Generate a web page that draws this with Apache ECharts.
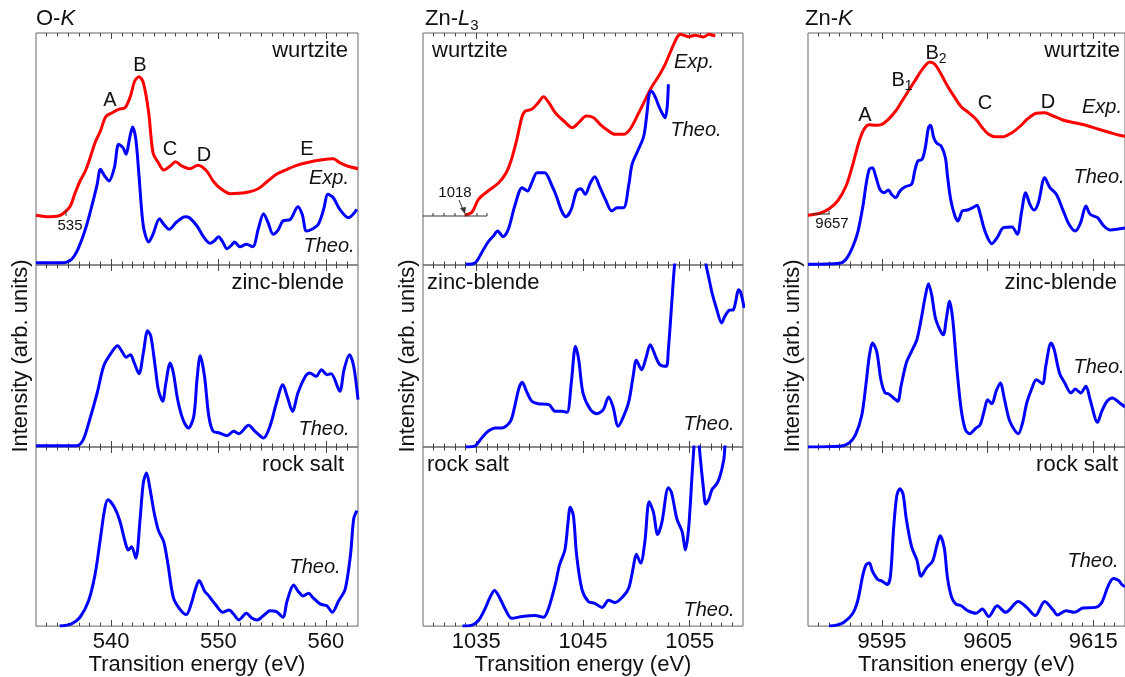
<!DOCTYPE html>
<html>
<head>
<meta charset="utf-8">
<script src="https://cdn.jsdelivr.net/npm/echarts@6/dist/echarts.min.js"></script>
<style>
  html, body { margin: 0; padding: 0; background: #ffffff; }
  #chart { width: 1125px; height: 677px; }
</style>
</head>
<body>
<div id="chart"></div>
<script>
// ---- Energy axes (eV) for the three edges ----
const xRangeOK = [533, 563];
const xRangeZnL3 = [1030, 1060];
const xRangeZnK = [9588, 9618];
const majorTicksOK = [540, 550, 560];
const majorTicksZnL3 = [1035, 1045, 1055];
const majorTicksZnK = [9595, 9605, 9615];
// Intensity scale (arb. units) per row of panels
const yMaxRows = [232, 182, 182];

// ---- O-K edge ----
const okWurtziteExp = [[533.0,49.7],[534.0,48.3],[535.1,49.0],[535.7,53.0],[536.2,59.0],[536.6,70.7],[537.1,84.0],[537.6,94.0],[538.0,105.7],[538.5,122.3],[539.0,134.0],[539.5,148.3],[540.1,152.3],[540.7,155.7],[541.3,157.3],[541.8,169.0],[542.2,184.0],[542.6,188.3],[543.0,182.3],[543.5,152.3],[543.9,112.3],[544.4,102.3],[544.9,95.0],[545.5,99.0],[546.0,103.3],[546.6,99.0],[547.3,96.3],[548.1,99.7],[548.9,94.0],[549.5,84.0],[550.1,77.3],[551.1,71.3],[551.9,71.7],[552.8,73.0],[553.7,76.3],[554.5,83.0],[555.4,90.7],[556.4,95.7],[557.3,99.7],[558.2,102.3],[559.5,105.0],[560.7,106.3],[561.3,102.3],[562.0,99.0],[563.0,96.3]];
const okWurtziteTheo = [[533.0,2.3],[535.5,2.3],[536.3,5.7],[536.9,15.7],[537.6,35.7],[538.2,59.0],[538.7,80.7],[539.0,95.7],[539.4,89.0],[539.8,84.0],[540.3,97.3],[540.7,120.7],[541.1,117.3],[541.4,110.7],[541.7,125.7],[542.0,138.0],[542.3,125.7],[542.6,89.0],[543.0,39.0],[543.5,23.0],[543.9,30.7],[544.5,46.3],[544.9,40.7],[545.4,35.7],[546.1,43.0],[546.9,48.3],[547.3,47.3],[548.0,39.0],[548.6,28.3],[549.2,21.7],[549.6,24.0],[550.0,28.3],[550.4,23.0],[550.8,16.3],[551.2,19.7],[551.5,23.0],[552.0,18.3],[552.6,20.7],[553.2,18.3],[553.7,35.7],[554.2,51.3],[554.6,43.0],[555.1,30.7],[555.6,35.7],[556.0,44.0],[556.7,45.7],[557.4,58.3],[557.8,50.7],[558.2,34.0],[558.7,35.7],[559.3,40.7],[559.8,55.7],[560.2,70.7],[560.7,67.3],[561.3,55.7],[562.1,47.3],[562.9,55.7]];
const okZincBlendeTheo = [[533.0,1.3],[536.8,1.3],[537.4,7.3],[538.0,27.3],[538.7,54.0],[539.3,80.7],[539.9,92.3],[540.6,101.3],[541.0,95.7],[541.4,89.7],[541.8,92.3],[542.1,85.7],[542.6,73.3],[543.0,94.0],[543.4,116.3],[543.7,110.7],[544.1,80.7],[544.4,57.3],[544.8,45.7],[545.1,64.0],[545.5,84.0],[545.8,74.0],[546.2,47.3],[546.7,27.3],[547.2,19.0],[547.7,30.7],[548.0,67.3],[548.3,91.3],[548.7,70.7],[549.1,30.7],[549.5,15.7],[550.1,14.0],[550.8,11.3],[551.4,15.7],[551.9,13.3],[552.8,21.7],[553.4,15.7],[554.2,9.0],[554.8,20.7],[555.4,44.0],[556.0,62.3],[556.4,50.7],[556.9,35.7],[557.4,54.0],[558.1,70.7],[558.5,74.0],[559.1,70.7],[559.6,77.3],[560.1,72.3],[560.5,73.3],[561.3,55.7],[561.7,77.3],[562.2,92.3],[562.6,80.7],[563.0,47.3]];
const okRockSaltTheo = [[535.2,0.0],[536.3,2.3],[537.1,9.0],[537.9,25.7],[538.5,52.3],[539.0,89.0],[539.4,119.0],[539.7,128.3],[540.3,120.7],[540.8,107.3],[541.3,85.7],[541.6,77.3],[541.9,80.7],[542.3,69.0],[542.7,109.0],[543.0,145.7],[543.3,155.7],[543.6,140.7],[544.0,115.7],[544.4,97.3],[544.9,85.7],[545.3,62.3],[545.8,29.0],[546.4,17.3],[547.0,11.7],[547.5,24.0],[547.8,35.7],[548.2,46.3],[548.7,35.7],[549.1,30.7],[549.7,22.3],[550.4,14.0],[551.0,16.3],[551.4,12.3],[551.9,6.3],[552.6,13.0],[553.1,8.3],[553.6,6.3],[554.2,10.7],[554.8,15.7],[555.4,14.7],[556.0,9.0],[556.4,25.7],[557.0,41.7],[557.4,35.7],[557.9,30.7],[558.4,33.3],[558.8,29.0],[559.5,22.3],[560.1,20.7],[560.6,14.0],[561.2,25.7],[561.8,37.3],[562.3,72.3],[562.6,109.0],[562.9,117.3]];

// ---- Zn-L3 edge ----
const znL3WurtziteExp = [[1033.9,49.7],[1034.6,53.0],[1035.2,65.7],[1036.1,74.0],[1037.1,82.3],[1037.8,92.3],[1038.3,105.7],[1038.8,125.7],[1039.3,149.0],[1039.6,154.0],[1040.2,155.7],[1040.8,162.3],[1041.3,168.3],[1041.8,162.3],[1042.4,152.3],[1043.2,144.0],[1044.0,137.3],[1044.6,142.3],[1045.3,149.0],[1046.0,147.3],[1046.6,140.7],[1047.4,134.0],[1048.0,130.7],[1048.8,130.7],[1049.4,135.7],[1050.0,147.3],[1050.7,162.3],[1051.4,177.3],[1052.1,189.0],[1052.7,200.7],[1053.3,215.7],[1053.8,227.3],[1054.1,230.7],[1054.9,228.3],[1055.5,229.7],[1056.3,228.0],[1056.8,230.7],[1057.4,229.0]];
const znL3WurtziteTheo = [[1034.0,0.7],[1034.9,2.3],[1035.5,12.3],[1036.1,23.0],[1036.6,29.0],[1037.0,34.0],[1037.5,28.3],[1038.0,35.7],[1038.6,59.0],[1039.3,77.3],[1039.8,74.0],[1040.2,82.3],[1040.7,92.3],[1041.4,92.3],[1042.1,79.0],[1042.5,69.0],[1043.0,54.0],[1043.4,48.3],[1043.9,55.7],[1044.4,74.0],[1044.8,76.3],[1045.2,70.7],[1045.7,82.3],[1046.1,88.3],[1046.6,77.3],[1047.1,65.7],[1047.7,54.0],[1048.2,57.3],[1048.8,57.3],[1049.3,80.7],[1049.6,100.7],[1050.2,115.7],[1050.7,129.0],[1051.0,152.3],[1051.2,170.7],[1051.4,174.0],[1051.8,167.3],[1052.1,159.0],[1052.4,152.3],[1052.7,147.3],[1052.9,159.0],[1053.0,180.7]];
const znL3ZincBlendeTheo = [[1034.0,0.0],[1034.9,1.3],[1035.5,9.0],[1036.1,15.7],[1036.8,19.0],[1037.4,19.0],[1038.2,25.7],[1038.6,40.7],[1039.0,59.0],[1039.3,64.7],[1039.7,55.7],[1040.2,45.7],[1040.8,43.3],[1041.8,42.3],[1042.4,35.7],[1043.0,35.7],[1043.5,34.7],[1043.9,64.0],[1044.3,100.7],[1044.6,87.3],[1045.0,54.0],[1045.7,37.3],[1046.3,33.3],[1046.9,37.3],[1047.4,50.0],[1047.8,40.7],[1048.3,20.7],[1048.8,30.7],[1049.3,45.7],[1049.7,70.7],[1050.0,86.7],[1050.5,77.3],[1050.9,89.0],[1051.3,102.3],[1051.8,90.7],[1052.2,82.3],[1052.8,80.7],[1053.0,97.3],[1053.3,140.7],[1053.6,184.0],[1054.2,235.0],[1055.0,250.0],[1055.9,230.0],[1056.5,184.0],[1056.8,169.0],[1057.1,154.0],[1057.5,139.0],[1058.0,124.0],[1058.3,130.7],[1058.7,136.7],[1059.1,137.3],[1059.6,157.3],[1059.8,154.0],[1060.1,139.0]];
const znL3RockSaltTheo = [[1033.7,0.0],[1034.6,1.0],[1035.2,5.7],[1035.8,17.3],[1036.3,29.7],[1036.7,36.3],[1037.1,30.7],[1037.7,17.3],[1038.3,8.0],[1039.3,9.7],[1040.5,10.7],[1041.3,9.0],[1041.8,19.0],[1042.4,42.3],[1042.8,62.3],[1043.3,77.3],[1043.6,105.7],[1043.8,120.7],[1044.1,112.3],[1044.4,72.3],[1044.9,37.3],[1045.5,25.0],[1046.1,23.0],[1046.8,19.0],[1047.4,26.3],[1048.0,24.0],[1048.8,30.7],[1049.3,39.0],[1049.7,59.0],[1050.0,73.0],[1050.4,64.0],[1050.8,85.7],[1051.2,126.3],[1051.6,115.7],[1052.0,93.0],[1052.4,105.7],[1053.0,140.7],[1053.3,135.7],[1053.8,109.0],[1054.3,95.7],[1054.6,77.3],[1054.9,99.0],[1055.2,149.0],[1055.4,182.0],[1055.65,215.0],[1055.9,182.0],[1056.3,139.0],[1056.5,124.0],[1056.8,129.0],[1057.1,139.0],[1057.5,144.0],[1057.8,150.7],[1058.2,169.0],[1058.3,182.0],[1058.6,215.0]];

// ---- Zn-K edge ----
const znKWurtziteExp = [[9588.0,49.7],[9589.1,51.7],[9590.0,56.3],[9590.8,64.0],[9591.6,79.0],[9592.2,99.0],[9592.8,122.3],[9593.3,135.7],[9593.8,140.3],[9594.4,139.7],[9595.0,140.7],[9595.6,145.7],[9596.3,154.0],[9596.9,164.0],[9597.5,174.0],[9598.1,184.0],[9598.7,194.0],[9599.2,200.7],[9599.5,203.0],[9600.0,200.7],[9600.6,190.7],[9601.2,179.0],[9601.9,167.3],[9602.5,158.3],[9603.2,152.3],[9603.9,145.7],[9604.5,137.3],[9605.1,130.7],[9605.7,128.3],[9606.5,128.3],[9607.3,132.3],[9608.1,139.0],[9608.8,146.3],[9609.6,151.7],[9610.4,152.3],[9611.2,149.0],[9612.1,145.0],[9613.2,142.3],[9614.3,139.7],[9615.5,135.7],[9616.8,131.7],[9617.5,129.7],[9618.0,128.7]];
const znKWurtziteTheo = [[9588.0,0.7],[9591.0,1.7],[9591.6,5.7],[9592.2,17.3],[9592.7,32.3],[9593.2,59.0],[9593.5,80.7],[9593.8,95.7],[9594.1,97.3],[9594.4,89.0],[9594.8,75.7],[9595.2,72.3],[9595.6,75.0],[9595.9,70.7],[9596.3,67.3],[9596.7,74.0],[9597.2,78.3],[9597.8,80.7],[9598.1,94.0],[9598.4,104.0],[9598.8,105.7],[9599.1,117.3],[9599.4,137.3],[9599.6,139.7],[9599.9,127.3],[9600.2,121.7],[9600.6,119.0],[9601.0,107.3],[9601.2,89.0],[9601.5,65.7],[9601.9,49.0],[9602.2,44.0],[9602.6,54.0],[9603.1,55.0],[9603.6,57.3],[9604.0,59.7],[9604.3,50.7],[9604.8,32.3],[9605.4,21.3],[9605.9,27.3],[9606.5,37.3],[9607.3,38.0],[9607.8,30.7],[9608.2,52.3],[9608.6,72.3],[9609.0,60.7],[9609.4,55.0],[9609.8,62.3],[9610.4,87.3],[9610.9,77.3],[9611.5,70.7],[9612.1,55.7],[9612.7,40.7],[9613.3,34.0],[9613.8,42.3],[9614.3,59.0],[9614.7,50.7],[9615.4,47.3],[9616.0,39.0],[9616.6,35.0],[9617.5,36.3],[9618.0,37.0]];
const znKZincBlendeTheo = [[9588.0,0.0],[9591.0,0.7],[9591.9,4.0],[9592.5,12.3],[9593.1,32.3],[9593.5,64.0],[9593.8,90.7],[9594.1,104.0],[9594.5,95.7],[9594.9,67.3],[9595.3,54.0],[9595.6,53.3],[9596.1,49.0],[9596.5,45.7],[9596.8,60.7],[9597.3,84.0],[9597.8,95.7],[9598.3,107.3],[9598.7,127.3],[9599.1,150.7],[9599.4,163.3],[9599.7,152.3],[9600.1,127.3],[9600.8,112.3],[9601.1,129.0],[9601.4,145.7],[9601.7,127.3],[9602.1,77.3],[9602.5,37.3],[9602.9,17.3],[9603.3,13.3],[9603.9,19.0],[9604.3,22.3],[9604.7,37.3],[9605.0,47.3],[9605.4,43.3],[9605.8,55.7],[9606.2,64.0],[9606.6,47.3],[9607.1,25.7],[9607.9,13.3],[9608.3,24.0],[9608.7,44.0],[9609.2,59.0],[9609.6,67.3],[9610.2,63.3],[9610.5,80.7],[9611.0,104.0],[9611.3,97.3],[9611.8,74.0],[9612.3,64.0],[9612.9,54.0],[9613.3,58.0],[9613.8,54.0],[9614.3,60.7],[9614.7,47.3],[9615.4,24.7],[9615.8,35.7],[9616.3,45.7],[9616.8,49.0],[9617.5,44.0],[9618.0,40.0]];
const znKRockSaltTheo = [[9590.0,0.0],[9590.7,1.0],[9591.4,4.0],[9592.2,12.3],[9592.7,25.7],[9593.2,52.3],[9593.5,62.3],[9593.8,64.0],[9594.1,55.7],[9594.6,47.3],[9595.0,45.7],[9595.5,42.3],[9595.8,50.7],[9596.1,99.0],[9596.4,132.3],[9596.7,139.7],[9597.0,134.0],[9597.3,109.0],[9597.8,80.7],[9598.3,67.3],[9598.7,50.7],[9599.2,59.0],[9599.8,66.3],[9600.2,82.3],[9600.5,91.7],[9600.9,79.0],[9601.2,49.0],[9601.6,29.0],[9602.0,22.3],[9602.5,20.7],[9603.1,15.7],[9603.9,13.0],[9604.5,17.3],[9605.1,9.7],[9605.9,20.7],[9606.7,14.0],[9607.9,25.0],[9608.7,19.0],[9609.5,10.7],[9610.4,25.0],[9611.2,16.3],[9611.6,11.3],[9612.4,15.7],[9613.2,14.0],[9614.0,18.3],[9615.2,19.0],[9615.8,24.0],[9616.4,40.7],[9616.9,48.3],[9617.4,46.3],[9617.7,42.3],[9618.0,40.0]];

// ---- Layout ----
const FONT = '"Liberation Sans", Arial, Helvetica, sans-serif';
const RED = '#ff0000';
const BLUE = '#0000ff';
const FRAME = '#666666';
const TICK = '#444444';
const COLS = [{ left: 36, width: 322 }, { left: 423, width: 320 }, { left: 808, width: 321 }];
const ROWS = [{ top: 33, height: 232 }, { top: 265, height: 182 }, { top: 447, height: 182 }];

const xRanges = [xRangeOK, xRangeZnL3, xRangeZnK];
const majorTicks = [majorTicksOK, majorTicksZnL3, majorTicksZnK];
// 1 eV minor ticks inside each range
const minorTicks = xRanges.map(([a, b]) => {
  const out = [];
  for (let v = a + 1; v < b; v++) out.push(v);
  return out;
});

// panels[col][row] -> list of curves
const panels = [
  [[{ d: okWurtziteExp, c: RED }, { d: okWurtziteTheo, c: BLUE }], [{ d: okZincBlendeTheo, c: BLUE }], [{ d: okRockSaltTheo, c: BLUE }]],
  [[{ d: znL3WurtziteExp, c: RED }, { d: znL3WurtziteTheo, c: BLUE }], [{ d: znL3ZincBlendeTheo, c: BLUE }], [{ d: znL3RockSaltTheo, c: BLUE }]],
  [[{ d: znKWurtziteExp, c: RED }, { d: znKWurtziteTheo, c: BLUE }], [{ d: znKZincBlendeTheo, c: BLUE }], [{ d: znKRockSaltTheo, c: BLUE }]]
];

const grids = [], xAxes = [], yAxes = [], series = [];
let g = 0;
for (let c = 0; c < 3; c++) {
  for (let r = 0; r < 3; r++) {
    grids.push({
      left: COLS[c].left, top: ROWS[r].top, width: COLS[c].width, height: ROWS[r].height,
      show: true, borderColor: FRAME, borderWidth: 1, backgroundColor: 'transparent'
    });
    const [mn, mx] = xRanges[c];
    const isBottom = r === 2;
    const base = {
      type: 'value', gridIndex: g, min: mn, max: mx,
      axisLine: { show: false, onZero: false }, splitLine: { show: false }
    };
    const majorTick = { show: true, inside: true, length: 6, customValues: majorTicks[c], lineStyle: { color: TICK, width: 1 } };
    const minorTick = { show: true, inside: true, length: 3.5, customValues: minorTicks[c], lineStyle: { color: TICK, width: 1 } };
    xAxes.push(Object.assign({}, base, {
      position: 'bottom', axisTick: majorTick,
      axisLabel: {
        show: isBottom, customValues: majorTicks[c], fontSize: 22, color: '#111', fontFamily: FONT, margin: 5,
        formatter: v => String(v)
      },
      name: isBottom ? 'Transition energy (eV)' : '', nameLocation: 'middle', nameGap: 24,
      nameTextStyle: { fontSize: 22, color: '#111', fontFamily: FONT }
    }));
    xAxes.push(Object.assign({}, base, { position: 'bottom', axisTick: minorTick, axisLabel: { show: false } }));
    xAxes.push(Object.assign({}, base, { position: 'top', axisTick: majorTick, axisLabel: { show: false } }));
    xAxes.push(Object.assign({}, base, { position: 'top', axisTick: minorTick, axisLabel: { show: false } }));
    yAxes.push({
      type: 'value', gridIndex: g, min: 0, max: yMaxRows[r],
      axisLine: { show: false }, axisTick: { show: false }, axisLabel: { show: false }, splitLine: { show: false },
      name: r === 1 ? 'Intensity (arb. units)' : '', nameLocation: 'middle', nameGap: 4,
      nameTextStyle: { fontSize: 22, color: '#111', fontFamily: FONT }
    });
    panels[c][r].forEach(curve => {
      series.push({
        type: 'line', xAxisIndex: 4 * g, yAxisIndex: g, data: curve.d,
        showSymbol: false, smooth: 0.3, clip: true, animation: false,
        lineStyle: { color: curve.c, width: 3 }, itemStyle: { color: curve.c }, z: 3
      });
    });
    g++;
  }
}

// ---- Annotations ----
function txt(text, x, y, size, opts) {
  opts = opts || {};
  return {
    type: 'text', z: 10,
    style: Object.assign({
      text: text, x: x, y: y, fill: '#111',
      font: (opts.italic ? 'italic ' : '') + size + 'px ' + FONT,
      align: opts.align || 'center', verticalAlign: 'middle'
    }, opts.rich ? { rich: opts.rich } : {})
  };
}
function seg(x1, y1, x2, y2) {
  return { type: 'line', z: 10, shape: { x1: x1, y1: y1, x2: x2, y2: y2 }, style: { stroke: '#333', lineWidth: 1 } };
}
const subRich = {
  m: { fontSize: 20, fontFamily: FONT, color: '#111', lineHeight: 26 },
  s: { fontSize: 14, fontFamily: FONT, color: '#111', verticalAlign: 'bottom', lineHeight: 14 }
};
const titleRich = {
  n: { fontSize: 22, fontFamily: FONT, color: '#111', lineHeight: 28 },
  i: { fontSize: 22, fontFamily: FONT, color: '#111', fontStyle: 'italic', lineHeight: 28 },
  s: { fontSize: 15, fontFamily: FONT, color: '#111', verticalAlign: 'bottom', lineHeight: 15 }
};

const graphics = [
  // edge titles
  txt('{n|O-}{i|K}', 36, 19, 22, { align: 'left', rich: titleRich }),
  txt('{n|Zn-}{i|L}{s|3}', 425, 19, 22, { align: 'left', rich: titleRich }),
  txt('{n|Zn-}{i|K}', 805, 19, 22, { align: 'left', rich: titleRich }),
  // phase labels
  txt('wurtzite', 348, 51, 22, { align: 'right' }),
  txt('zinc-blende', 344, 283, 22, { align: 'right' }),
  txt('rock salt', 344, 465, 22, { align: 'right' }),
  txt('wurtzite', 432, 51, 22, { align: 'left' }),
  txt('zinc-blende', 427, 283, 22, { align: 'left' }),
  txt('rock salt', 427, 465, 22, { align: 'left' }),
  txt('wurtzite', 1120, 51, 22, { align: 'right' }),
  txt('zinc-blende', 1117, 283, 22, { align: 'right' }),
  txt('rock salt', 1118, 465, 22, { align: 'right' }),
  // Exp./Theo. tags
  txt('Exp.', 329, 178, 20, { italic: true }),
  txt('Theo.', 329, 246, 20, { italic: true }),
  txt('Theo.', 324, 429, 20, { italic: true }),
  txt('Theo.', 315, 567, 20, { italic: true }),
  txt('Exp.', 694, 62, 20, { italic: true }),
  txt('Theo.', 696, 130, 20, { italic: true }),
  txt('Theo.', 709, 424, 20, { italic: true }),
  txt('Theo.', 709, 610, 20, { italic: true }),
  txt('Exp.', 1102, 107, 20, { italic: true }),
  txt('Theo.', 1099, 177, 20, { italic: true }),
  txt('Theo.', 1099, 367, 20, { italic: true }),
  txt('Theo.', 1093, 561, 20, { italic: true }),
  // O-K feature letters
  txt('A', 110, 100, 20),
  txt('B', 140, 65, 20),
  txt('C', 170, 149, 20),
  txt('D', 204, 155, 20),
  txt('E', 307, 149, 20),
  // Zn-K feature letters
  txt('A', 865, 115, 20),
  txt('{m|B}{s|1}', 902, 80, 20, { rich: subRich }),
  txt('{m|B}{s|2}', 936, 53, 20, { rich: subRich }),
  txt('C', 985, 103, 20),
  txt('D', 1048, 102, 20),
  // onset markers of the experimental curves
  txt('535', 70, 226, 15),
  seg(66, 210, 66, 216),
  txt('1018', 455, 193, 15),
  seg(459, 200, 464, 212),
  { type: 'polygon', z: 10, shape: { points: [[465, 214], [460, 208], [466, 207]] }, style: { fill: '#333' } },
  seg(423, 216, 487, 216),
  seg(433, 213, 433, 216), seg(444, 213, 444, 216), seg(455, 213, 455, 216),
  seg(466, 213, 466, 216), seg(477, 213, 477, 216), seg(487, 213, 487, 216),
  txt('9657', 832, 224, 15),
  seg(812, 214, 830, 214),
  seg(829, 211, 829, 214)
];

const chart = echarts.init(document.getElementById('chart'), null, { renderer: 'canvas' });
chart.setOption({
  backgroundColor: '#ffffff',
  animation: false,
  textStyle: { fontFamily: FONT },
  grid: grids,
  xAxis: xAxes,
  yAxis: yAxes,
  series: series,
  graphic: graphics
});
</script>
</body>
</html>
